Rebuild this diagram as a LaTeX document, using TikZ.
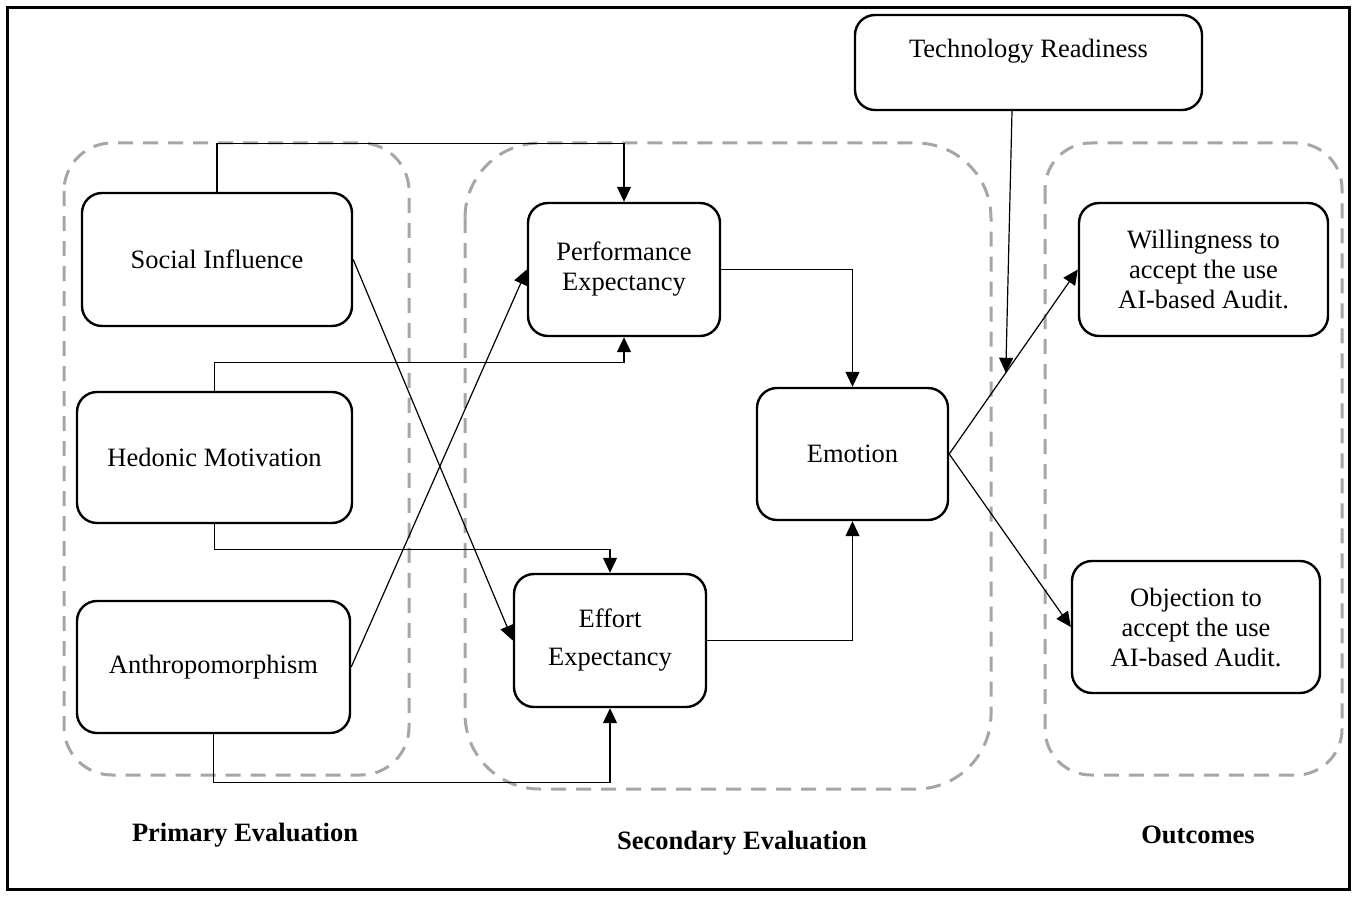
\documentclass[tikz,border=0pt]{standalone}
\usepackage{fontspec}
\setmainfont{Liberation Serif}
\usetikzlibrary{arrows.meta,calc}
\definecolor{grpgray}{HTML}{A6A6A6}
\begin{document}
\begin{tikzpicture}[x=1pt,y=-1pt,
  box/.style={draw, line width=2.4pt, rounded corners=20pt, align=center, inner sep=0pt, font=\fontsize{26.5}{30}\selectfont},
  grp/.style={draw=grpgray, line width=3pt, dash pattern=on 15pt off 10pt},
  arr/.style={line width=1.2pt, -{Triangle[length=15pt,width=14pt]}},
  lab/.style={font=\bfseries\fontsize{26.5}{30}\selectfont}]
\useasboundingbox (0,0) rectangle (1356,896);
\draw[line width=3pt] (7,8) rectangle (1349,889);
% groups
\draw[grp, rounded corners=48pt] (64,143) rectangle (409,775);
\draw[grp, rounded corners=75pt] (465,143) rectangle (991,789);
\draw[grp, rounded corners=46pt] (1045,143) rectangle (1342,775);
% nodes
\node[box, minimum width=270, minimum height=133] (si) at (217,259.5) {Social Influence};
\node[box, minimum width=275, minimum height=131] (hm) at (214.5,457.5) {Hedonic Motivation};
\node[box, minimum width=273, minimum height=132] (an) at (213.5,667) {Anthropomorphism};
\node[box, minimum width=192, minimum height=133] (pe) at (624,269.5) {Performance\\Expectancy};
\node[box, minimum width=192, minimum height=133] (ee) at (610,640.5) {Effort\\[8pt]Expectancy};
\node[box, minimum width=191, minimum height=132] (em) at (852.5,454) {Emotion};
\node[box, minimum width=347, minimum height=95] (tr) at (1028.5,62.5) {\raisebox{29pt}{Technology Readiness}};
\node[box, minimum width=249, minimum height=133] (wi) at (1203.5,269.5) {Willingness to\\accept the use\\AI-based Audit.};
\node[box, minimum width=248, minimum height=132] (ob) at (1196,627) {Objection to\\accept the use\\AI-based Audit.};
% labels
\node[lab] (l1) at (245,835) {Primary Evaluation};
\node[lab] (l2) at (742,843) {Secondary Evaluation};
\node[lab] (l3) at (1198,835) {Outcomes};
% connectors
\draw[arr] (si.north) -- ++(0,-48) -| (pe.north);
\draw[arr] (hm.north) -- ++(0,-28) -| (pe.south);
\draw[arr] (hm.south) -- ++(0,25) -| (ee.north);
\draw[arr] (an.south) -- ++(0,48) -| (ee.south);
\draw[arr] (si.east) -- (ee.west);
\draw[arr] (an.east) -- (pe.west);
\draw[arr] (pe.east) -| (em.north);
\draw[arr] (ee.east) -| (em.south);
\draw[arr] (em.east) -- (wi.west);
\draw[arr] (em.east) -- (ob.west);
\coordinate (tip) at ($(em.east)!0.44!(wi.west)$);
\draw[arr] ($(tr.south)+(-16.5,0)$) -- (tip);
\end{tikzpicture}
\end{document}
